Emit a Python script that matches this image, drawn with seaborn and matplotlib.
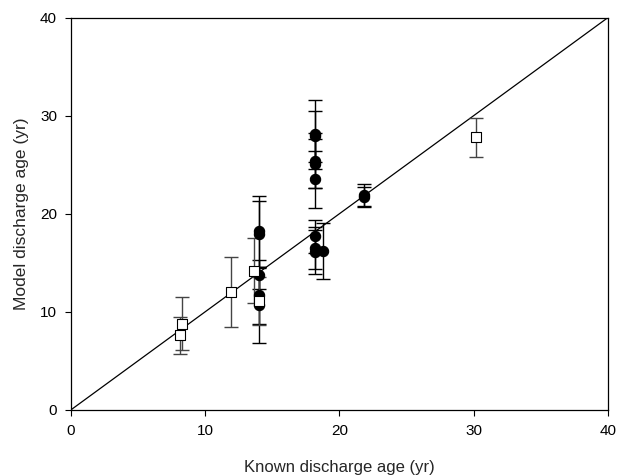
import matplotlib
matplotlib.use("Agg")
import matplotlib.pyplot as plt
import pandas as pd
import seaborn as sns

# open squares
sq_known = [8.1, 8.3, 11.9, 13.6, 14.0, 30.2]
sq_model = [7.6, 8.8, 12.0, 14.2, 11.1, 27.8]
sq_err = [1.9, 2.7, 3.6, 3.3, 2.4, 2.0]

# filled circles
ci_known = [14.0, 14.0, 14.0, 14.0, 14.0,
            18.2, 18.2, 18.2, 18.2, 18.2, 18.2, 18.2, 18.2,
            18.8, 21.8, 21.8]
ci_model = [18.2, 17.9, 13.8, 11.7, 10.7,
            28.1, 27.9, 25.4, 25.1, 23.5, 17.7, 16.5, 16.1,
            16.2, 21.9, 21.7]
ci_err = [3.6, 3.4, 1.5, 2.9, 3.9,
          3.5, 2.6, 2.8, 2.5, 2.9, 1.7, 2.1, 2.2,
          2.9, 1.1, 1.0]

one_to_one = [0, 40]
ticks = [0, 10, 20, 30, 40]

sns.set_style("ticks")
plt.rcParams["font.family"] = ["Liberation Sans", "DejaVu Sans"]

sq = pd.DataFrame({"known": sq_known, "model": sq_model, "err": sq_err})
ci = pd.DataFrame({"known": ci_known, "model": ci_model, "err": ci_err})

fig = plt.figure(figsize=(6.28, 4.76), dpi=100)
ax = fig.add_axes([0.113, 0.139, 0.855, 0.824])

sns.lineplot(x=one_to_one, y=one_to_one, ax=ax, color="black", linewidth=0.9)

ax.errorbar(ci["known"], ci["model"], yerr=ci["err"], fmt="none",
            ecolor="black", elinewidth=1.0, capsize=5, capthick=1.0, zorder=2)
ax.errorbar(sq["known"], sq["model"], yerr=sq["err"], fmt="none",
            ecolor="#444444", elinewidth=1.0, capsize=5, capthick=1.0, zorder=2)

sns.scatterplot(data=ci, x="known", y="model", ax=ax, marker="o", s=55,
                color="black", edgecolor="black", linewidth=0.8, zorder=3)
sns.scatterplot(data=sq, x="known", y="model", ax=ax, marker="s", s=50,
                color="white", edgecolor="black", linewidth=0.8, zorder=4)

ax.set_xlim(0, 40)
ax.set_ylim(0, 40)
ax.set_xticks(ticks)
ax.set_yticks(ticks)
ax.tick_params(direction="out", length=4, width=0.8, labelsize=11,
               colors="black", pad=6)
for side in ["top", "right", "bottom", "left"]:
    ax.spines[side].set_visible(True)
    ax.spines[side].set_linewidth(0.9)
    ax.spines[side].set_color("black")
ax.tick_params(top=False, right=False)

ax.set_xlabel("Known discharge age (yr)", fontsize=12, labelpad=16)
ax.set_ylabel("Model discharge age (yr)", fontsize=12.5, labelpad=8)

fig.savefig("out.png", dpi=100)
plt.close(fig)
